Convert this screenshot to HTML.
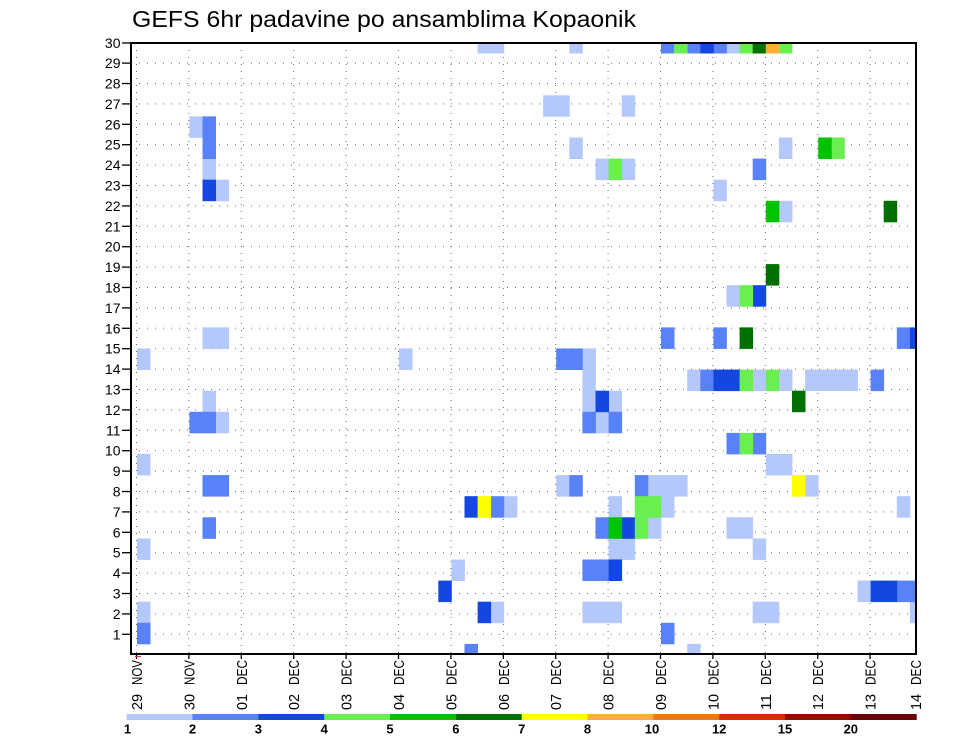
<!DOCTYPE html>
<html>
<head>
<meta charset="utf-8">
<style>
  html,body{margin:0;padding:0;background:#fff;}
  svg{display:block;}
  text{font-family:"Liberation Sans","DejaVu Sans",sans-serif;fill:#000;}
</style>
</head>
<body>
<svg width="960" height="742" viewBox="0 0 960 742" xmlns="http://www.w3.org/2000/svg">
  <rect x="0" y="0" width="960" height="742" fill="#fff"/>
  <defs>
    <clipPath id="plot"><rect x="131" y="42" width="786" height="612"/></clipPath>
  </defs>

  <text x="132" y="27" font-size="23" textLength="504" lengthAdjust="spacingAndGlyphs">GEFS 6hr padavine po ansamblima Kopaonik</text>

  <g stroke="#6a6a6a" stroke-width="1" stroke-dasharray="1,7" fill="none">
    <line x1="131" y1="634.3" x2="916" y2="634.3"/>
    <line x1="131" y1="613.9" x2="916" y2="613.9"/>
    <line x1="131" y1="593.5" x2="916" y2="593.5"/>
    <line x1="131" y1="573.1" x2="916" y2="573.1"/>
    <line x1="131" y1="552.7" x2="916" y2="552.7"/>
    <line x1="131" y1="532.3" x2="916" y2="532.3"/>
    <line x1="131" y1="511.9" x2="916" y2="511.9"/>
    <line x1="131" y1="491.5" x2="916" y2="491.5"/>
    <line x1="131" y1="471.1" x2="916" y2="471.1"/>
    <line x1="131" y1="450.7" x2="916" y2="450.7"/>
    <line x1="131" y1="430.3" x2="916" y2="430.3"/>
    <line x1="131" y1="409.9" x2="916" y2="409.9"/>
    <line x1="131" y1="389.5" x2="916" y2="389.5"/>
    <line x1="131" y1="369.1" x2="916" y2="369.1"/>
    <line x1="131" y1="348.7" x2="916" y2="348.7"/>
    <line x1="131" y1="328.3" x2="916" y2="328.3"/>
    <line x1="131" y1="307.9" x2="916" y2="307.9"/>
    <line x1="131" y1="287.5" x2="916" y2="287.5"/>
    <line x1="131" y1="267.1" x2="916" y2="267.1"/>
    <line x1="131" y1="246.7" x2="916" y2="246.7"/>
    <line x1="131" y1="226.3" x2="916" y2="226.3"/>
    <line x1="131" y1="205.9" x2="916" y2="205.9"/>
    <line x1="131" y1="185.5" x2="916" y2="185.5"/>
    <line x1="131" y1="165.1" x2="916" y2="165.1"/>
    <line x1="131" y1="144.7" x2="916" y2="144.7"/>
    <line x1="131" y1="124.3" x2="916" y2="124.3"/>
    <line x1="131" y1="103.9" x2="916" y2="103.9"/>
    <line x1="131" y1="83.5" x2="916" y2="83.5"/>
    <line x1="131" y1="63.1" x2="916" y2="63.1"/>
  </g>
  <g stroke="#6a6a6a" stroke-width="1" stroke-dasharray="1,6" fill="none">
    <line x1="136.5" y1="43" x2="136.5" y2="654"/>
    <line x1="188.9" y1="43" x2="188.9" y2="654"/>
    <line x1="241.3" y1="43" x2="241.3" y2="654"/>
    <line x1="293.7" y1="43" x2="293.7" y2="654"/>
    <line x1="346.1" y1="43" x2="346.1" y2="654"/>
    <line x1="398.5" y1="43" x2="398.5" y2="654"/>
    <line x1="450.9" y1="43" x2="450.9" y2="654"/>
    <line x1="503.3" y1="43" x2="503.3" y2="654"/>
    <line x1="555.7" y1="43" x2="555.7" y2="654"/>
    <line x1="608.1" y1="43" x2="608.1" y2="654"/>
    <line x1="660.5" y1="43" x2="660.5" y2="654"/>
    <line x1="712.9" y1="43" x2="712.9" y2="654"/>
    <line x1="765.3" y1="43" x2="765.3" y2="654"/>
    <line x1="817.7" y1="43" x2="817.7" y2="654"/>
    <line x1="870.1" y1="43" x2="870.1" y2="654"/>
  </g>

  <g clip-path="url(#plot)">
    <g transform="translate(137,644.3) scale(13.1,-21.1)">
      <g fill="#b4c8fc">
        <rect x="0" y="13" width="1.03" height="1.02"/>
        <rect x="0" y="8" width="1.03" height="1.02"/>
        <rect x="0" y="4" width="1.03" height="1.02"/>
        <rect x="0" y="1" width="1.03" height="1.02"/>
        <rect x="4" y="24" width="1.03" height="1.02"/>
        <rect x="5" y="22" width="1.03" height="1.02"/>
        <rect x="6" y="21" width="1.03" height="1.02"/>
        <rect x="5" y="14" width="1.03" height="1.02"/>
        <rect x="6" y="14" width="1.03" height="1.02"/>
        <rect x="5" y="11" width="1.03" height="1.02"/>
        <rect x="6" y="10" width="1.03" height="1.02"/>
        <rect x="20" y="13" width="1.03" height="1.02"/>
        <rect x="24" y="3" width="1.03" height="1.02"/>
        <rect x="26" y="28" width="1.03" height="1.02"/>
        <rect x="27" y="28" width="1.03" height="1.02"/>
        <rect x="27" y="1" width="1.03" height="1.02"/>
        <rect x="28" y="6" width="1.03" height="1.02"/>
        <rect x="31" y="25" width="1.03" height="1.02"/>
        <rect x="32" y="25" width="1.03" height="1.02"/>
        <rect x="32" y="7" width="1.03" height="1.02"/>
        <rect x="33" y="28" width="1.03" height="1.02"/>
        <rect x="33" y="23" width="1.03" height="1.02"/>
        <rect x="34" y="13" width="1.03" height="1.02"/>
        <rect x="34" y="12" width="1.03" height="1.02"/>
        <rect x="34" y="11" width="1.03" height="1.02"/>
        <rect x="34" y="1" width="1.03" height="1.02"/>
        <rect x="35" y="22" width="1.03" height="1.02"/>
        <rect x="35" y="10" width="1.03" height="1.02"/>
        <rect x="35" y="1" width="1.03" height="1.02"/>
        <rect x="36" y="11" width="1.03" height="1.02"/>
        <rect x="36" y="6" width="1.03" height="1.02"/>
        <rect x="36" y="4" width="1.03" height="1.02"/>
        <rect x="36" y="1" width="1.03" height="1.02"/>
        <rect x="37" y="25" width="1.03" height="1.02"/>
        <rect x="37" y="22" width="1.03" height="1.02"/>
        <rect x="37" y="4" width="1.03" height="1.02"/>
        <rect x="39" y="7" width="1.03" height="1.02"/>
        <rect x="39" y="5" width="1.03" height="1.02"/>
        <rect x="40" y="7" width="1.03" height="1.02"/>
        <rect x="40" y="6" width="1.03" height="1.02"/>
        <rect x="41" y="7" width="1.03" height="1.02"/>
        <rect x="42" y="12" width="1.03" height="1.02"/>
        <rect x="42" y="-1" width="1.03" height="1.02"/>
        <rect x="44" y="21" width="1.03" height="1.02"/>
        <rect x="45" y="28" width="1.03" height="1.02"/>
        <rect x="45" y="16" width="1.03" height="1.02"/>
        <rect x="45" y="5" width="1.03" height="1.02"/>
        <rect x="46" y="5" width="1.03" height="1.02"/>
        <rect x="47" y="12" width="1.03" height="1.02"/>
        <rect x="47" y="4" width="1.03" height="1.02"/>
        <rect x="47" y="1" width="1.03" height="1.02"/>
        <rect x="48" y="8" width="1.03" height="1.02"/>
        <rect x="48" y="1" width="1.03" height="1.02"/>
        <rect x="49" y="23" width="1.03" height="1.02"/>
        <rect x="49" y="20" width="1.03" height="1.02"/>
        <rect x="49" y="12" width="1.03" height="1.02"/>
        <rect x="49" y="8" width="1.03" height="1.02"/>
        <rect x="51" y="12" width="1.03" height="1.02"/>
        <rect x="51" y="7" width="1.03" height="1.02"/>
        <rect x="52" y="12" width="1.03" height="1.02"/>
        <rect x="53" y="12" width="1.03" height="1.02"/>
        <rect x="54" y="12" width="1.03" height="1.02"/>
        <rect x="55" y="2" width="1.03" height="1.02"/>
        <rect x="58" y="6" width="1.03" height="1.02"/>
        <rect x="59" y="1" width="1.03" height="1.02"/>
      </g>
      <g fill="#5a82f8">
        <rect x="0" y="0" width="1.03" height="1.02"/>
        <rect x="4" y="10" width="1.03" height="1.02"/>
        <rect x="5" y="24" width="1.03" height="1.02"/>
        <rect x="5" y="23" width="1.03" height="1.02"/>
        <rect x="5" y="10" width="1.03" height="1.02"/>
        <rect x="5" y="7" width="1.03" height="1.02"/>
        <rect x="6" y="7" width="1.03" height="1.02"/>
        <rect x="5" y="5" width="1.03" height="1.02"/>
        <rect x="25" y="-1" width="1.03" height="1.02"/>
        <rect x="27" y="6" width="1.03" height="1.02"/>
        <rect x="32" y="13" width="1.03" height="1.02"/>
        <rect x="33" y="13" width="1.03" height="1.02"/>
        <rect x="33" y="7" width="1.03" height="1.02"/>
        <rect x="34" y="10" width="1.03" height="1.02"/>
        <rect x="34" y="3" width="1.03" height="1.02"/>
        <rect x="35" y="5" width="1.03" height="1.02"/>
        <rect x="35" y="3" width="1.03" height="1.02"/>
        <rect x="36" y="10" width="1.03" height="1.02"/>
        <rect x="38" y="7" width="1.03" height="1.02"/>
        <rect x="40" y="28" width="1.03" height="1.02"/>
        <rect x="40" y="14" width="1.03" height="1.02"/>
        <rect x="40" y="0" width="1.03" height="1.02"/>
        <rect x="42" y="28" width="1.03" height="1.02"/>
        <rect x="43" y="12" width="1.03" height="1.02"/>
        <rect x="44" y="28" width="1.03" height="1.02"/>
        <rect x="44" y="14" width="1.03" height="1.02"/>
        <rect x="45" y="9" width="1.03" height="1.02"/>
        <rect x="47" y="22" width="1.03" height="1.02"/>
        <rect x="47" y="9" width="1.03" height="1.02"/>
        <rect x="56" y="12" width="1.03" height="1.02"/>
        <rect x="58" y="14" width="1.03" height="1.02"/>
        <rect x="58" y="2" width="1.03" height="1.02"/>
        <rect x="59" y="2" width="1.03" height="1.02"/>
      </g>
      <g fill="#1446e0">
        <rect x="5" y="21" width="1.03" height="1.02"/>
        <rect x="23" y="2" width="1.03" height="1.02"/>
        <rect x="25" y="6" width="1.03" height="1.02"/>
        <rect x="26" y="1" width="1.03" height="1.02"/>
        <rect x="35" y="11" width="1.03" height="1.02"/>
        <rect x="36" y="3" width="1.03" height="1.02"/>
        <rect x="37" y="5" width="1.03" height="1.02"/>
        <rect x="43" y="28" width="1.03" height="1.02"/>
        <rect x="44" y="12" width="1.03" height="1.02"/>
        <rect x="45" y="12" width="1.03" height="1.02"/>
        <rect x="47" y="16" width="1.03" height="1.02"/>
        <rect x="56" y="2" width="1.03" height="1.02"/>
        <rect x="57" y="2" width="1.03" height="1.02"/>
        <rect x="59" y="14" width="1.03" height="1.02"/>
      </g>
      <g fill="#6af04e">
        <rect x="36" y="22" width="1.03" height="1.02"/>
        <rect x="38" y="6" width="1.03" height="1.02"/>
        <rect x="38" y="5" width="1.03" height="1.02"/>
        <rect x="39" y="6" width="1.03" height="1.02"/>
        <rect x="41" y="28" width="1.03" height="1.02"/>
        <rect x="46" y="28" width="1.03" height="1.02"/>
        <rect x="46" y="16" width="1.03" height="1.02"/>
        <rect x="46" y="12" width="1.03" height="1.02"/>
        <rect x="46" y="9" width="1.03" height="1.02"/>
        <rect x="48" y="12" width="1.03" height="1.02"/>
        <rect x="49" y="28" width="1.03" height="1.02"/>
        <rect x="53" y="23" width="1.03" height="1.02"/>
      </g>
      <g fill="#00c300">
        <rect x="36" y="5" width="1.03" height="1.02"/>
        <rect x="48" y="20" width="1.03" height="1.02"/>
        <rect x="52" y="23" width="1.03" height="1.02"/>
      </g>
      <g fill="#007000">
        <rect x="46" y="14" width="1.03" height="1.02"/>
        <rect x="47" y="28" width="1.03" height="1.02"/>
        <rect x="48" y="17" width="1.03" height="1.02"/>
        <rect x="50" y="11" width="1.03" height="1.02"/>
        <rect x="57" y="20" width="1.03" height="1.02"/>
      </g>
      <g fill="#ffff00">
        <rect x="26" y="6" width="1.03" height="1.02"/>
        <rect x="50" y="7" width="1.03" height="1.02"/>
      </g>
      <g fill="#ffb030">
        <rect x="48" y="28" width="1.03" height="1.02"/>
      </g>
    </g>
  </g>

  <rect x="131" y="43" width="785" height="611" fill="none" stroke="#000" stroke-width="2"/>

  <g stroke="#000" stroke-width="1.3">
    <line x1="122" y1="634.3" x2="131" y2="634.3"/>
    <line x1="122" y1="613.9" x2="131" y2="613.9"/>
    <line x1="122" y1="593.5" x2="131" y2="593.5"/>
    <line x1="122" y1="573.1" x2="131" y2="573.1"/>
    <line x1="122" y1="552.7" x2="131" y2="552.7"/>
    <line x1="122" y1="532.3" x2="131" y2="532.3"/>
    <line x1="122" y1="511.9" x2="131" y2="511.9"/>
    <line x1="122" y1="491.5" x2="131" y2="491.5"/>
    <line x1="122" y1="471.1" x2="131" y2="471.1"/>
    <line x1="122" y1="450.7" x2="131" y2="450.7"/>
    <line x1="122" y1="430.3" x2="131" y2="430.3"/>
    <line x1="122" y1="409.9" x2="131" y2="409.9"/>
    <line x1="122" y1="389.5" x2="131" y2="389.5"/>
    <line x1="122" y1="369.1" x2="131" y2="369.1"/>
    <line x1="122" y1="348.7" x2="131" y2="348.7"/>
    <line x1="122" y1="328.3" x2="131" y2="328.3"/>
    <line x1="122" y1="307.9" x2="131" y2="307.9"/>
    <line x1="122" y1="287.5" x2="131" y2="287.5"/>
    <line x1="122" y1="267.1" x2="131" y2="267.1"/>
    <line x1="122" y1="246.7" x2="131" y2="246.7"/>
    <line x1="122" y1="226.3" x2="131" y2="226.3"/>
    <line x1="122" y1="205.9" x2="131" y2="205.9"/>
    <line x1="122" y1="185.5" x2="131" y2="185.5"/>
    <line x1="122" y1="165.1" x2="131" y2="165.1"/>
    <line x1="122" y1="144.7" x2="131" y2="144.7"/>
    <line x1="122" y1="124.3" x2="131" y2="124.3"/>
    <line x1="122" y1="103.9" x2="131" y2="103.9"/>
    <line x1="122" y1="83.5" x2="131" y2="83.5"/>
    <line x1="122" y1="63.1" x2="131" y2="63.1"/>
    <line x1="122" y1="43" x2="131" y2="43"/>
  </g>
  <g font-size="14" text-anchor="end">
    <text x="120.5" y="639.3">1</text>
    <text x="120.5" y="618.9">2</text>
    <text x="120.5" y="598.5">3</text>
    <text x="120.5" y="578.1">4</text>
    <text x="120.5" y="557.7">5</text>
    <text x="120.5" y="537.3">6</text>
    <text x="120.5" y="516.9">7</text>
    <text x="120.5" y="496.5">8</text>
    <text x="120.5" y="476.1">9</text>
    <text x="120.5" y="455.7">10</text>
    <text x="120.5" y="435.3">11</text>
    <text x="120.5" y="414.9">12</text>
    <text x="120.5" y="394.5">13</text>
    <text x="120.5" y="374.1">14</text>
    <text x="120.5" y="353.7">15</text>
    <text x="120.5" y="333.3">16</text>
    <text x="120.5" y="312.9">17</text>
    <text x="120.5" y="292.5">18</text>
    <text x="120.5" y="272.1">19</text>
    <text x="120.5" y="251.7">20</text>
    <text x="120.5" y="231.3">21</text>
    <text x="120.5" y="210.9">22</text>
    <text x="120.5" y="190.5">23</text>
    <text x="120.5" y="170.1">24</text>
    <text x="120.5" y="149.7">25</text>
    <text x="120.5" y="129.3">26</text>
    <text x="120.5" y="108.9">27</text>
    <text x="120.5" y="88.5">28</text>
    <text x="120.5" y="68.1">29</text>
    <text x="120.5" y="48">30</text>
  </g>

  <g stroke="#000" stroke-width="1.3">
    <line x1="136.5" y1="654" x2="136.5" y2="659"/>
    <line x1="188.9" y1="654" x2="188.9" y2="659"/>
    <line x1="241.3" y1="654" x2="241.3" y2="659"/>
    <line x1="293.7" y1="654" x2="293.7" y2="659"/>
    <line x1="346.1" y1="654" x2="346.1" y2="659"/>
    <line x1="398.5" y1="654" x2="398.5" y2="659"/>
    <line x1="450.9" y1="654" x2="450.9" y2="659"/>
    <line x1="503.3" y1="654" x2="503.3" y2="659"/>
    <line x1="555.7" y1="654" x2="555.7" y2="659"/>
    <line x1="608.1" y1="654" x2="608.1" y2="659"/>
    <line x1="660.5" y1="654" x2="660.5" y2="659"/>
    <line x1="712.9" y1="654" x2="712.9" y2="659"/>
    <line x1="765.3" y1="654" x2="765.3" y2="659"/>
    <line x1="817.7" y1="654" x2="817.7" y2="659"/>
    <line x1="870.1" y1="654" x2="870.1" y2="659"/>
  </g>
  <line x1="135" y1="656.5" x2="141" y2="656.5" stroke="#d04040" stroke-width="1"/>

  <g font-size="15">
    <text transform="translate(142,710) rotate(-90)" textLength="16" lengthAdjust="spacingAndGlyphs">29</text>
    <text transform="translate(142,685) rotate(-90)" textLength="25" lengthAdjust="spacingAndGlyphs">NOV</text>
    <text transform="translate(194.4,710) rotate(-90)" textLength="16" lengthAdjust="spacingAndGlyphs">30</text>
    <text transform="translate(194.4,685) rotate(-90)" textLength="25" lengthAdjust="spacingAndGlyphs">NOV</text>
    <text transform="translate(246.8,710) rotate(-90)" textLength="16" lengthAdjust="spacingAndGlyphs">01</text>
    <text transform="translate(246.8,685) rotate(-90)" textLength="25" lengthAdjust="spacingAndGlyphs">DEC</text>
    <text transform="translate(299.2,710) rotate(-90)" textLength="16" lengthAdjust="spacingAndGlyphs">02</text>
    <text transform="translate(299.2,685) rotate(-90)" textLength="25" lengthAdjust="spacingAndGlyphs">DEC</text>
    <text transform="translate(351.6,710) rotate(-90)" textLength="16" lengthAdjust="spacingAndGlyphs">03</text>
    <text transform="translate(351.6,685) rotate(-90)" textLength="25" lengthAdjust="spacingAndGlyphs">DEC</text>
    <text transform="translate(404,710) rotate(-90)" textLength="16" lengthAdjust="spacingAndGlyphs">04</text>
    <text transform="translate(404,685) rotate(-90)" textLength="25" lengthAdjust="spacingAndGlyphs">DEC</text>
    <text transform="translate(456.4,710) rotate(-90)" textLength="16" lengthAdjust="spacingAndGlyphs">05</text>
    <text transform="translate(456.4,685) rotate(-90)" textLength="25" lengthAdjust="spacingAndGlyphs">DEC</text>
    <text transform="translate(508.8,710) rotate(-90)" textLength="16" lengthAdjust="spacingAndGlyphs">06</text>
    <text transform="translate(508.8,685) rotate(-90)" textLength="25" lengthAdjust="spacingAndGlyphs">DEC</text>
    <text transform="translate(561.2,710) rotate(-90)" textLength="16" lengthAdjust="spacingAndGlyphs">07</text>
    <text transform="translate(561.2,685) rotate(-90)" textLength="25" lengthAdjust="spacingAndGlyphs">DEC</text>
    <text transform="translate(613.6,710) rotate(-90)" textLength="16" lengthAdjust="spacingAndGlyphs">08</text>
    <text transform="translate(613.6,685) rotate(-90)" textLength="25" lengthAdjust="spacingAndGlyphs">DEC</text>
    <text transform="translate(666,710) rotate(-90)" textLength="16" lengthAdjust="spacingAndGlyphs">09</text>
    <text transform="translate(666,685) rotate(-90)" textLength="25" lengthAdjust="spacingAndGlyphs">DEC</text>
    <text transform="translate(718.4,710) rotate(-90)" textLength="16" lengthAdjust="spacingAndGlyphs">10</text>
    <text transform="translate(718.4,685) rotate(-90)" textLength="25" lengthAdjust="spacingAndGlyphs">DEC</text>
    <text transform="translate(770.8,710) rotate(-90)" textLength="16" lengthAdjust="spacingAndGlyphs">11</text>
    <text transform="translate(770.8,685) rotate(-90)" textLength="25" lengthAdjust="spacingAndGlyphs">DEC</text>
    <text transform="translate(823.2,710) rotate(-90)" textLength="16" lengthAdjust="spacingAndGlyphs">12</text>
    <text transform="translate(823.2,685) rotate(-90)" textLength="25" lengthAdjust="spacingAndGlyphs">DEC</text>
    <text transform="translate(875.6,710) rotate(-90)" textLength="16" lengthAdjust="spacingAndGlyphs">13</text>
    <text transform="translate(875.6,685) rotate(-90)" textLength="25" lengthAdjust="spacingAndGlyphs">DEC</text>
    <text transform="translate(920.8,710) rotate(-90)" textLength="16" lengthAdjust="spacingAndGlyphs">14</text>
    <text transform="translate(920.8,685) rotate(-90)" textLength="25" lengthAdjust="spacingAndGlyphs">DEC</text>
  </g>

  <g>
    <rect x="126.7" y="714" width="66.3" height="6" fill="#b4c8fc"/>
    <rect x="192.5" y="714" width="66.3" height="6" fill="#5a82f8"/>
    <rect x="258.4" y="714" width="66.3" height="6" fill="#1446e0"/>
    <rect x="324.2" y="714" width="66.3" height="6" fill="#6af04e"/>
    <rect x="390.0" y="714" width="66.3" height="6" fill="#00c300"/>
    <rect x="455.9" y="714" width="66.3" height="6" fill="#007000"/>
    <rect x="521.7" y="714" width="66.3" height="6" fill="#ffff00"/>
    <rect x="587.5" y="714" width="66.3" height="6" fill="#ffb030"/>
    <rect x="653.3" y="714" width="66.3" height="6" fill="#fa7800"/>
    <rect x="719.2" y="714" width="66.3" height="6" fill="#e22800"/>
    <rect x="785.0" y="714" width="66.3" height="6" fill="#a30000"/>
    <rect x="850.8" y="714" width="65.9" height="6" fill="#6e0000"/>
  </g>
  <g font-size="13" font-weight="bold" text-anchor="middle">
    <text x="127.5" y="733.5">1</text>
    <text x="192.5" y="733.5">2</text>
    <text x="258.4" y="733.5">3</text>
    <text x="324.2" y="733.5">4</text>
    <text x="390.0" y="733.5">5</text>
    <text x="455.9" y="733.5">6</text>
    <text x="521.7" y="733.5">7</text>
    <text x="587.5" y="733.5">8</text>
    <text x="652.0" y="733.5">10</text>
    <text x="719.2" y="733.5">12</text>
    <text x="785.0" y="733.5">15</text>
    <text x="850.8" y="733.5">20</text>
  </g>
</svg>
</body>
</html>
